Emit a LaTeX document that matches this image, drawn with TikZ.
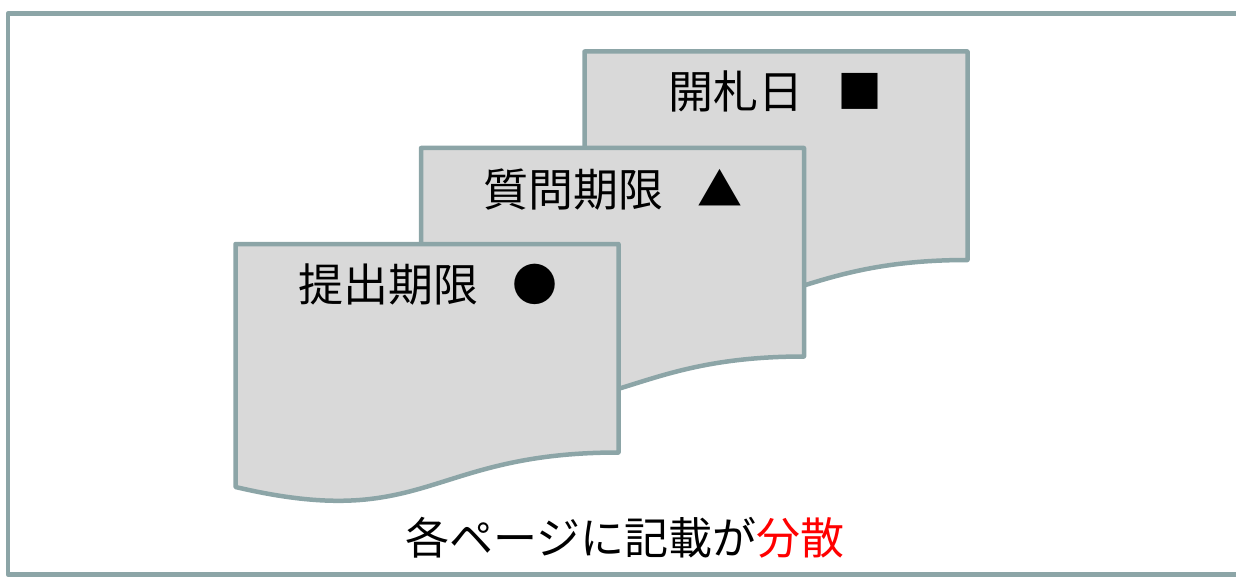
\documentclass[tikz,border=0pt]{standalone}
\usepackage{fontspec}
\setmainfont{Noto Sans CJK JP}
\definecolor{frameline}{RGB}{140,165,167}
\definecolor{pagefill}{RGB}{217,217,217}
\definecolor{alertred}{RGB}{255,0,0}
\tikzset{
  framebox/.style={draw=frameline, line width=4.5pt, line join=round},
  pageshape/.style={draw=frameline, fill=pagefill, line width=4.5pt, line join=round},
  pagelabel/.style={inner sep=0pt, anchor=base west, font=\fontsize{45}{50}\selectfont},
  captionlabel/.style={inner sep=0pt, anchor=base, font=\fontsize{44}{50}\selectfont},
  docpage/.pic={
    \path[pageshape] (0,0) -- (383,0) -- (383,208.5)
      .. controls (191.5,208.5) and (191.5,288) .. (0,243) -- cycle;
  }
}
\begin{document}
\begin{tikzpicture}[x=1pt,y=-1pt]
\useasboundingbox (0,0) rectangle (1236,580);
% outer frame
\draw[framebox] (8,13.5) rectangle (1250,574.5);
% pages, back to front
\pic (pageC) at (584.5,51.5) {docpage};
\pic (pageB) at (421,148) {docpage};
\pic (pageA) at (235.5,244) {docpage};
% labels
\node[pagelabel] (labC) at (668,109) {開札日\hspace{0.77em}■};
\node[pagelabel] (labB) at (483,207) {質問期限\hspace{0.77em}▲};
\node[pagelabel] (labA) at (298,301) {提出期限\hspace{0.77em}●};
\node[captionlabel] (caption) at (625,554) {各ページに記載が\textcolor{alertred}{分散}};
\end{tikzpicture}
\end{document}
